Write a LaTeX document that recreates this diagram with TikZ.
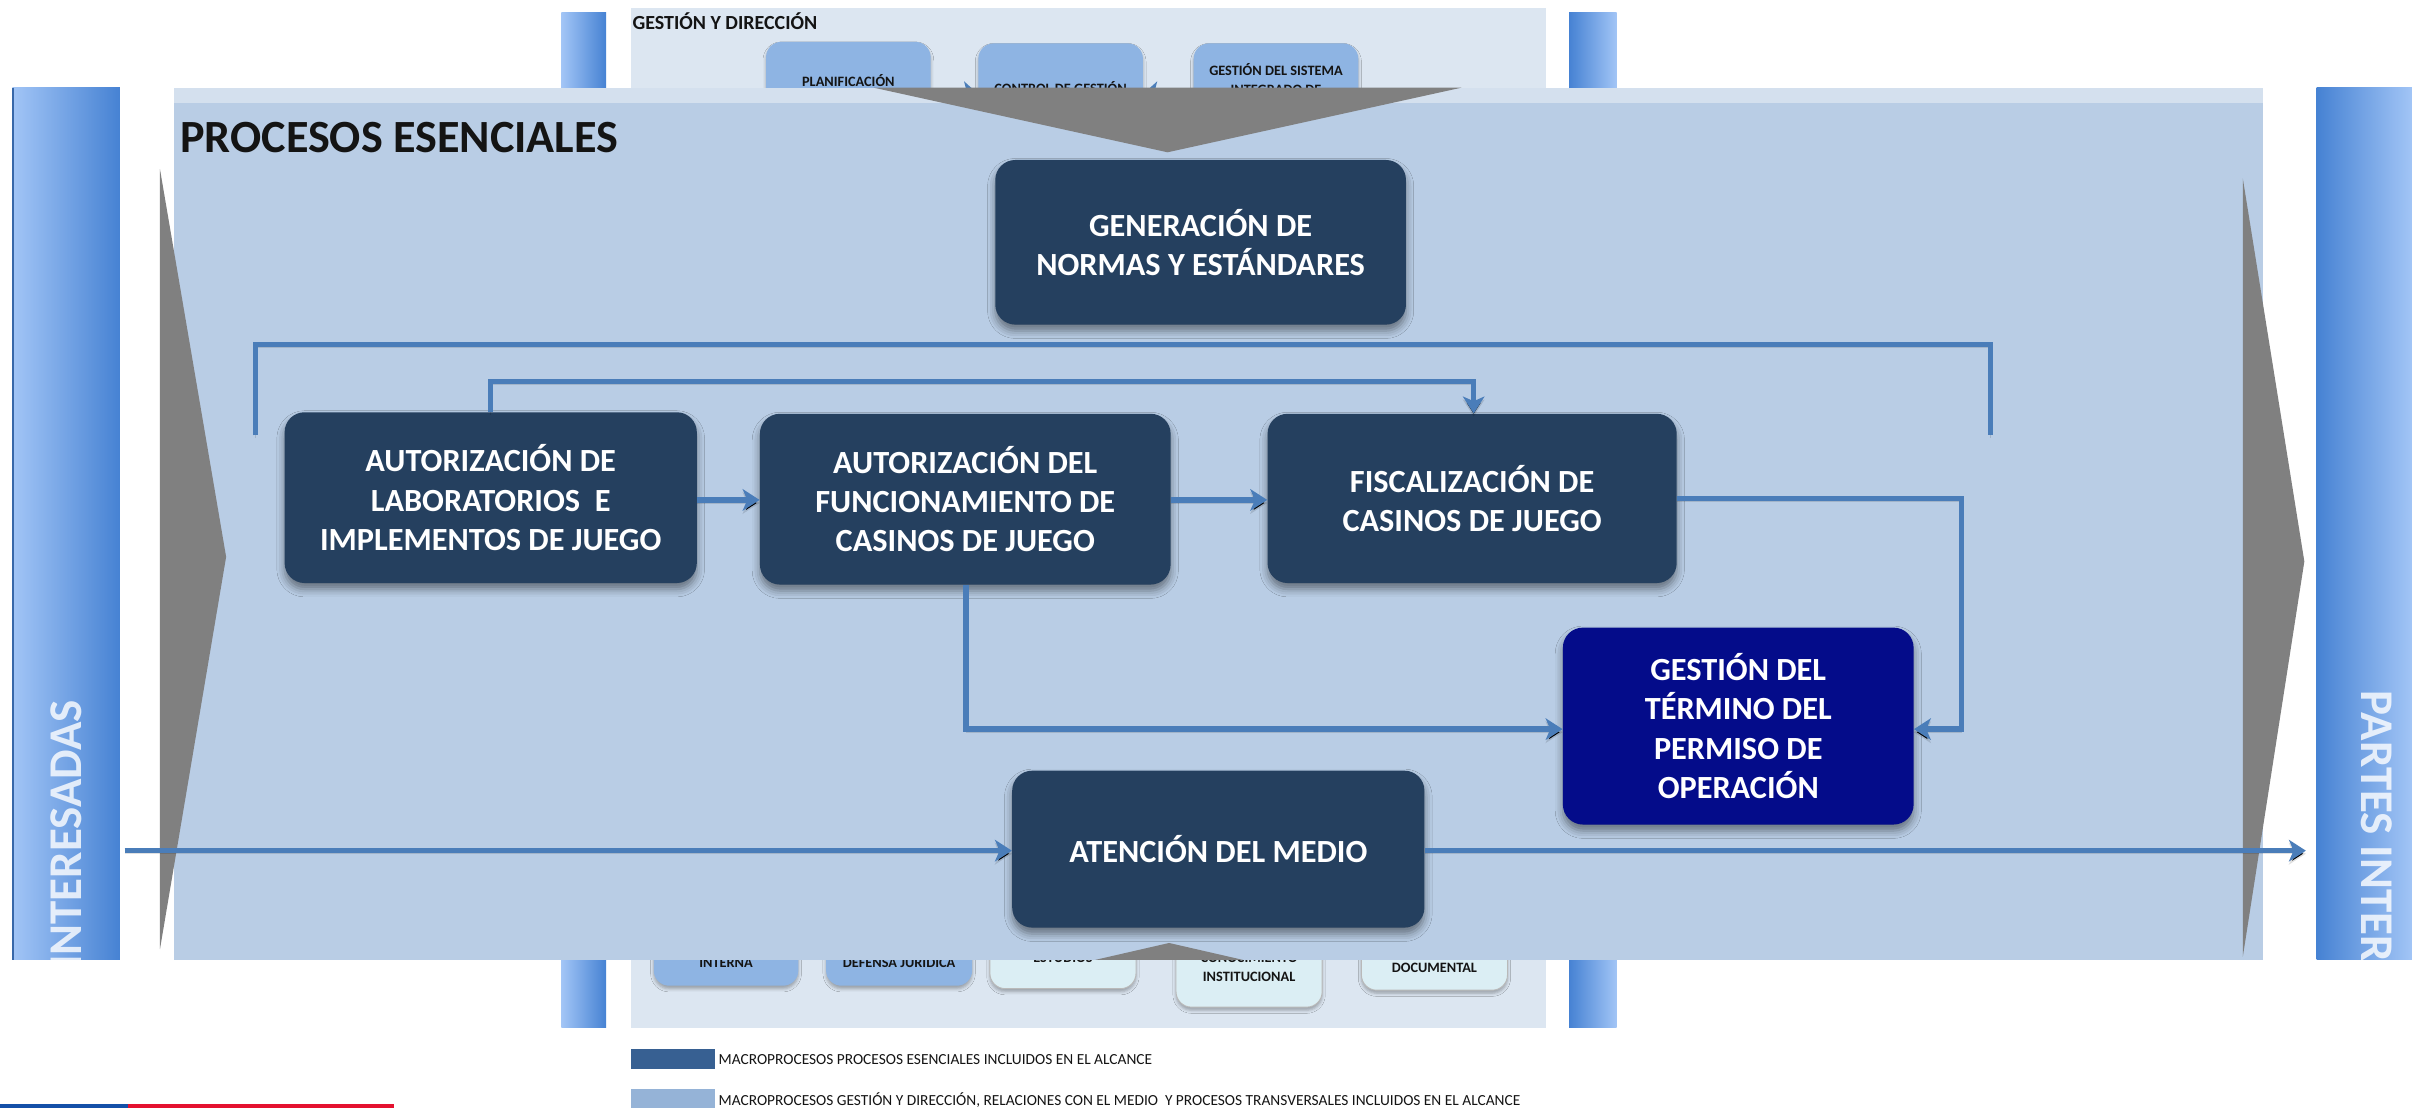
\documentclass[tikz,border=0pt]{standalone}
\usepackage{fontspec}
\setmainfont{Carlito}
\usetikzlibrary{arrows.meta,shadows.blur}

\definecolor{panelfill}{HTML}{B9CDE5}
\definecolor{paneltop}{HTML}{D4E0EE}
\definecolor{procdark}{HTML}{25405F}
\definecolor{procnavy}{HTML}{040C8A}
\definecolor{connblue}{HTML}{4A7DB9}
\definecolor{wedgegray}{HTML}{808080}
\definecolor{bgpanel}{HTML}{DCE6F1}
\definecolor{gdblue}{HTML}{8EB4E3}
\definecolor{lightbox}{HTML}{DBEEF4}
\definecolor{barlight}{HTML}{A2C5F6}
\definecolor{bardark}{HTML}{4682D3}
\definecolor{legdark}{HTML}{376092}
\definecolor{leglight}{HTML}{95B3D7}
\definecolor{stripeblue}{HTML}{1450A8}
\definecolor{stripered}{HTML}{E4112F}
\definecolor{inkblack}{HTML}{141414}

\newcommand\procfont{\bfseries\fontsize{21}{25.5}\selectfont}
\newcommand\smallboxfont{\bfseries\fontsize{9.3}{11}\selectfont}
\newcommand\legendfont{\fontsize{10}{12}\selectfont}

\begin{document}
\begin{tikzpicture}[x=1pt,y=-1pt,
  proc/.style={rounded corners=13pt, fill=procdark, text=white, font=\procfont,
    align=center, inner sep=0pt,
    blur shadow={shadow xshift=0pt, shadow yshift=-4pt, shadow blur radius=5pt, shadow opacity=45}},
  conn/.style={draw=connblue, line width=3.6pt,
    preaction={draw=black, draw opacity=0.12, transform canvas={yshift=-2pt}}},
  arr/.style={-{Stealth[length=11pt,width=14pt,inset=3pt]}},
  bgbox/.style={rounded corners=10pt, inner sep=0pt,
    blur shadow={shadow xshift=0pt, shadow yshift=-2pt, shadow blur radius=2pt, shadow opacity=30}},
  btext/.style={font=\smallboxfont, text=inkblack, inner sep=0pt, anchor=base},
  bartext/.style={font=\bfseries\fontsize{30.5}{32}\selectfont, text=white, text opacity=0.8, inner sep=0pt},
  legtext/.style={font=\legendfont, text=inkblack, inner sep=0pt, anchor=west},
  bgarrow/.style={draw=connblue, line width=2.6pt, -{Stealth[length=9pt,width=16pt,inset=2pt]}}
]
% page
\fill[white] (0,0) rectangle (1568,720);
\useasboundingbox (0,0) rectangle (1568,720);

% ---------- management / support slide behind ----------
\fill[bgpanel] (410,5) rectangle (1005,668);
\shade[left color=barlight, right color=bardark] (365,8) rectangle (394,668);
\shade[left color=bardark, right color=barlight] (1020,8) rectangle (1051,668);

\node[font=\bfseries\fontsize{13}{15}\selectfont, text=inkblack, inner sep=0pt, anchor=base west]
  (gdtitle) at (411,19.5) {GESTIÓN Y DIRECCIÓN};

\node[bgbox, fill=gdblue, minimum width=107pt, minimum height=80pt, anchor=north] (planbox) at (551.5,27) {};
\node[bgbox, fill=gdblue, minimum width=107pt, minimum height=80pt, anchor=north] (ctrlbox) at (689.5,28) {};
\node[bgbox, fill=gdblue, minimum width=107pt, minimum height=80pt, anchor=north] (sysbox) at (829.5,28) {};
\node[btext] (planT) at (551.5,56) {PLANIFICACIÓN};
\node[btext] (ctrlT) at (689.5,60.6) {CONTROL DE GESTIÓN};
\node[btext] (sysT1) at (829.5,49) {GESTIÓN DEL SISTEMA};
\node[btext] (sysT2) at (829.5,61.3) {INTEGRADO DE};
\coordinate (ay) at (0,61);
\draw[bgarrow] (planbox.east |- ay) -- (ctrlbox.west |- ay);
\draw[bgarrow] (sysbox.west |- ay) -- (ctrlbox.east |- ay);

% support processes row
\node[bgbox, fill=gdblue, minimum width=94pt, minimum height=80pt, anchor=south] (audbox) at (472,641) {};
\node[bgbox, fill=gdblue, minimum width=95pt, minimum height=80pt, anchor=south] (defbox) at (584.5,641) {};
\node[bgbox, fill=lightbox, draw=gray!55, line width=0.6pt, minimum width=95pt, minimum height=80pt, anchor=south] (estbox) at (691,643) {};
\node[bgbox, fill=lightbox, draw=gray!55, line width=0.6pt, minimum width=95pt, minimum height=90pt, anchor=south] (conbox) at (812,655) {};
\node[bgbox, fill=lightbox, draw=gray!55, line width=0.6pt, minimum width=95pt, minimum height=80pt, anchor=south] (docbox) at (932.5,644) {};
\node[btext] (audT) at (472,629) {INTERNA};
\node[btext] (defT) at (584.5,629) {DEFENSA JURÍDICA};
\node[btext] (estT) at (691,625.8) {ESTUDIOS};
\node[btext] (conT1) at (812,625.8) {CONOCIMIENTO};
\node[btext] (conT2) at (812,638) {INSTITUCIONAL};
\node[btext] (docT) at (932.5,632.5) {DOCUMENTAL};

% legend
\fill[legdark] (410,682) rectangle (465,695);
\node[legtext] (leg1) at (467,689) {MACROPROCESOS PROCESOS ESENCIALES INCLUIDOS EN EL ALCANCE};
\fill[leglight] (410,708) rectangle (465,720);
\node[legtext] (leg2) at (467,715) {MACROPROCESOS GESTIÓN Y DIRECCIÓN, RELACIONES CON EL MEDIO\ \ Y PROCESOS TRANSVERSALES INCLUIDOS EN EL ALCANCE};

% footer stripe
\fill[stripeblue] (0,717.6) rectangle (83,720);
\fill[stripered] (83,717.6) rectangle (256,720);

% ---------- stakeholder bars ----------
\shade[left color=barlight, right color=bardark] (8,57) rectangle (78,624);
\draw[bardark!80!black, line width=0.8pt] (8.4,57) -- (8.4,624);
\begin{scope}
  \clip (8,57) rectangle (78,624);
  \node[bartext, rotate=90, anchor=east] (partesL) at (43,455) {PARTES INTERESADAS};
\end{scope}
\shade[left color=bardark, right color=barlight] (1506,57) rectangle (1568,624);
\begin{scope}
  \clip (1506,57) rectangle (1568,624);
  \node[bartext, rotate=-90, anchor=west] (partesR) at (1545,449) {PARTES INTERESADAS};
\end{scope}

% ---------- core processes panel ----------
\fill[panelfill] (113,57) rectangle (1471,624);
\fill[paneltop] (113,57) rectangle (1471,67);
\node[font=\bfseries\fontsize{30}{36}\selectfont, text=inkblack, inner sep=0pt, anchor=base west]
  (pe) at (117,99) {PROCESOS ESENCIALES};

% big gray chevrons
\fill[wedgegray] (104,110) -- (147,362) -- (104,617) -- cycle;
\fill[wedgegray] (1458,116) -- (1498,365) -- (1458,622) -- cycle;
\fill[wedgegray] (568,57) -- (950,57) -- (759,99) -- cycle;
\fill[wedgegray] (712,624) -- (760,613) -- (808,624) -- cycle;

% process boxes
\node[proc, minimum width=267pt, minimum height=107pt] (norm) at (780.5,157.5) {GENERACIÓN DE\\NORMAS Y ESTÁNDARES};
\node[proc, minimum width=268pt, minimum height=111pt] (lab) at (319,323.5) {AUTORIZACIÓN DE\\LABORATORIOS\ \ E\\IMPLEMENTOS DE JUEGO};
\node[proc, minimum width=267pt, minimum height=111pt] (func) at (627.5,324.5) {AUTORIZACIÓN DEL\\FUNCIONAMIENTO DE\\CASINOS DE JUEGO};
\node[proc, minimum width=266pt, minimum height=110pt] (fisc) at (957,324) {FISCALIZACIÓN DE\\CASINOS DE JUEGO};
\node[proc, fill=procnavy, minimum width=228pt, minimum height=128pt] (term) at (1130,472) {GESTIÓN DEL\\TÉRMINO DEL\\PERMISO DE\\OPERACIÓN};
\node[proc, minimum width=268pt, minimum height=102pt] (aten) at (792,552) {ATENCIÓN DEL MEDIO};

% connectors
\coordinate (brL) at (166,283);
\coordinate (brLt) at (166,224);
\coordinate (brRt) at (1294,224);
\coordinate (brR) at (1294,283);
\draw[conn] (brL) -- (brLt) -- (brRt) -- (brR);

\coordinate (labUp) at (319,248);
\coordinate (fiscUp) at (958,248);
\draw[conn,arr] (lab.north -| labUp) -- (labUp) -- (fiscUp) -- (fisc.north -| fiscUp);

\coordinate (rowY) at (0,325);
\draw[conn,arr] (lab.east |- rowY) -- (func.west |- rowY);
\draw[conn,arr] (func.east |- rowY) -- (fisc.west |- rowY);

\coordinate (funcDown) at (628,474);
\draw[conn,arr] (func.south -| funcDown) -- (funcDown) -- (funcDown -| term.west);
\coordinate (fiscOut) at (1275,474);
\draw[conn,arr] (fisc.east) -- (fisc.east -| fiscOut) -- (fiscOut) -- (fiscOut -| term.east);

\coordinate (medIn) at (81,553);
\coordinate (medOut) at (1499,553);
\draw[conn,arr] (medIn) -- (medIn -| aten.west);
\draw[conn,arr] (aten.east |- medOut) -- (medOut);
\end{tikzpicture}
\end{document}
